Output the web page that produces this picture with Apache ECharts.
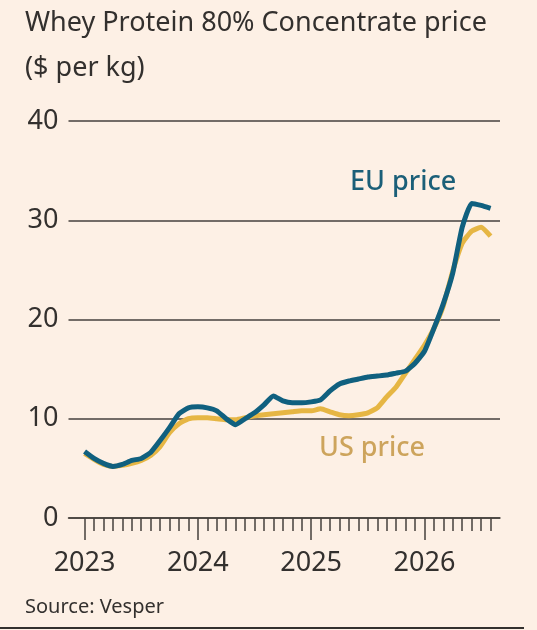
<!DOCTYPE html>
<html>
<head>
<meta charset="utf-8">
<script src="https://cdn.jsdelivr.net/npm/echarts@6/dist/echarts.min.js"></script>
<style>
  html, body { margin: 0; padding: 0; background: #fdf0e5; }
  #chart { width: 537px; height: 630px; }
</style>
</head>
<body>
<div id="chart"></div>
<script>
// monthly readings, Jan 2023 - Aug 2026
var months = [
    '2023-01', '2023-02', '2023-03', '2023-04', '2023-05', '2023-06',
    '2023-07', '2023-08', '2023-09', '2023-10', '2023-11', '2023-12',
    '2024-01', '2024-02', '2024-03', '2024-04', '2024-05', '2024-06',
    '2024-07', '2024-08', '2024-09', '2024-10', '2024-11', '2024-12',
    '2025-01', '2025-02', '2025-03', '2025-04', '2025-05', '2025-06',
    '2025-07', '2025-08', '2025-09', '2025-10', '2025-11', '2025-12',
    '2026-01', '2026-02', '2026-03', '2026-04', '2026-05', '2026-06',
    '2026-07', '2026-08'
];
var euPrice = [
    6.7, 6.0, 5.5, 5.2, 5.4, 5.8, 6.0, 6.6, 7.8, 9.1, 10.5, 11.1,
    11.2, 11.1, 10.8, 10.0, 9.4, 10.0, 10.6, 11.4, 12.3, 11.8, 11.6, 11.6,
    11.7, 11.9, 12.8, 13.5, 13.8, 14.0, 14.2, 14.3, 14.4, 14.6, 14.8, 15.6,
    16.8, 19.1, 21.6, 24.7, 29.3, 31.7, 31.5, 31.2
];
var usPrice = [
    6.5, 5.9, 5.4, 5.2, 5.3, 5.5, 5.8, 6.3, 7.2, 8.6, 9.5, 10.0,
    10.1, 10.1, 10.0, 9.9, 9.9, 10.1, 10.3, 10.4, 10.5, 10.6, 10.7, 10.8,
    10.8, 11.0, 10.7, 10.4, 10.3, 10.4, 10.6, 11.1, 12.2, 13.2, 14.6, 16.0,
    17.4, 19.1, 21.4, 24.9, 27.7, 28.9, 29.3, 28.4
];
var yearTicks = ['2023', '2024', '2025', '2026'];
var yTicks = [0, 10, 20, 30, 40];

var ink = '#33302e';
var rule = '#45403c';
var font = 'Noto Sans';

// month string -> months since Jan 2023
var monthIndex = function (m) {
    var p = m.split('-');
    return (parseInt(p[0], 10) - 2023) * 12 + parseInt(p[1], 10) - 1;
};
var toPoints = function (values) {
    var res = [];
    for (var i = 0; i < values.length; i++) {
        res.push([monthIndex(months[i]), values[i]]);
    }
    return res;
};

var majorTicks = yearTicks.map(function (y) { return monthIndex(y + '-01'); });
var minorTicks = [];
months.forEach(function (m) {
    var idx = monthIndex(m);
    if (majorTicks.indexOf(idx) < 0) minorTicks.push(idx);
});

var myChart = echarts.init(document.getElementById('chart'));
var option = {
    backgroundColor: '#fdf0e5',
    animation: false,
    title: {
        text: 'Whey Protein 80% Concentrate price\n($ per kg)',
        left: 20,
        top: -4,
        textStyle: {
            fontFamily: font,
            fontSize: 27,
            fontWeight: 'normal',
            color: ink,
            lineHeight: 45
        }
    },
    grid: {
        left: 68.5,
        right: 37,
        top: 121,
        bottom: 112
    },
    xAxis: [
        {
            type: 'value',
            min: -1.7,
            max: 44,
            axisLine: { show: true, lineStyle: { color: rule, width: 1.5 } },
            axisTick: {
                show: true,
                customValues: majorTicks,
                length: 22,
                lineStyle: { color: rule, width: 1.5 }
            },
            axisLabel: {
                customValues: majorTicks,
                formatter: function (v) { return yearTicks[majorTicks.indexOf(v)]; },
                fontFamily: font,
                fontSize: 27,
                color: ink,
                margin: 32
            },
            splitLine: { show: false }
        },
        {
            type: 'value',
            min: -1.7,
            max: 44,
            position: 'bottom',
            axisLine: { show: false },
            axisTick: {
                show: true,
                customValues: minorTicks,
                length: 13,
                lineStyle: { color: rule, width: 1.5 }
            },
            axisLabel: { show: false },
            splitLine: { show: false }
        }
    ],
    yAxis: {
        type: 'value',
        min: yTicks[0],
        max: yTicks[yTicks.length - 1],
        interval: 10,
        axisLine: { show: false },
        axisTick: { show: false },
        axisLabel: {
            fontFamily: font,
            fontSize: 27,
            color: ink,
            margin: 10
        },
        splitLine: { lineStyle: { color: rule, width: 1.5 } }
    },
    series: [
        {
            name: 'US price',
            type: 'line',
            data: toPoints(usPrice),
            showSymbol: false,
            smooth: 0.15,
            lineStyle: { color: '#e6b644', width: 5 },
            z: 2
        },
        {
            name: 'EU price',
            type: 'line',
            data: toPoints(euPrice),
            showSymbol: false,
            smooth: 0.15,
            lineStyle: { color: '#10607f', width: 5 },
            z: 3
        }
    ],
    graphic: [
        {
            type: 'text',
            left: 350,
            top: 169,
            style: {
                text: 'EU price',
                fontFamily: font,
                fontSize: 27,
                fontWeight: 500,
                fill: '#1b5f78'
            }
        },
        {
            type: 'text',
            left: 319,
            top: 435,
            style: {
                text: 'US price',
                fontFamily: font,
                fontSize: 27,
                fontWeight: 500,
                fill: '#cda45c'
            }
        },
        {
            type: 'text',
            left: 25,
            top: 597,
            style: {
                text: 'Source: Vesper',
                fontFamily: font,
                fontSize: 20,
                fill: ink
            }
        },
        {
            type: 'line',
            shape: { x1: 0, y1: 628, x2: 524, y2: 628 },
            style: { stroke: ink, lineWidth: 2 }
        }
    ]
};
myChart.setOption(option);
</script>
</body>
</html>
